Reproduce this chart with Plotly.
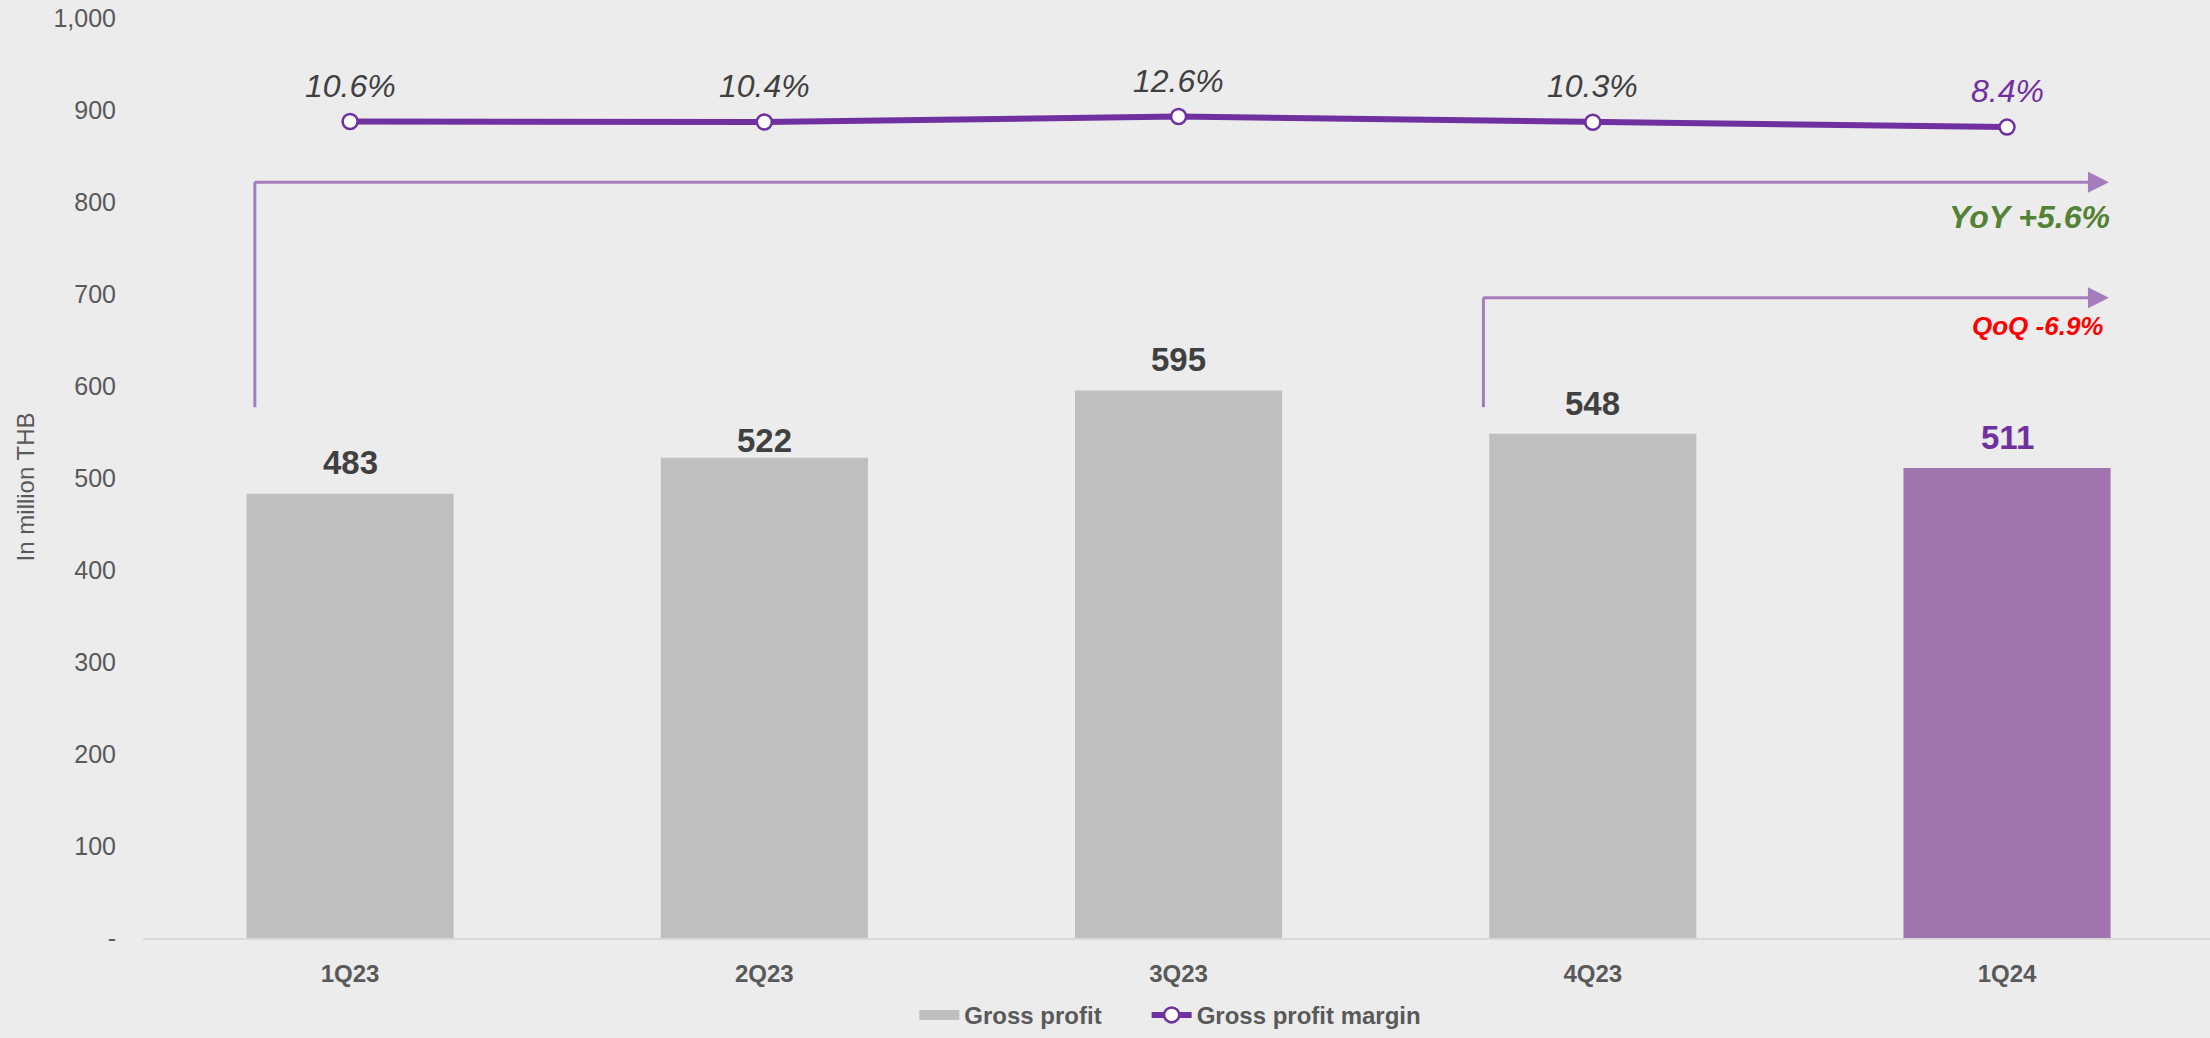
import plotly.graph_objects as go

# Quarterly gross profit (million THB) and gross profit margin (%)
quarters = ["1Q23", "2Q23", "3Q23", "4Q23", "1Q24"]
gross_profit = [483, 522, 595, 548, 511]
gross_margin = [10.6, 10.4, 12.6, 10.3, 8.4]
margin_labels = ["10.6%", "10.4%", "12.6%", "10.3%", "8.4%"]

y_ticks = [0, 100, 200, 300, 400, 500, 600, 700, 800, 900, 1000]
y_tick_text = ["-", "100", "200", "300", "400", "500", "600", "700", "800", "900", "1,000"]

yoy_text = "YoY +5.6%"
qoq_text = "QoQ -6.9%"

GREY = "#BFBFBF"
HIGHLIGHT = "#A074AF"
PURPLE = "#7030A0"
ARROW = "#A67DBB"
DARK = "#404040"
AXIS_TXT = "#595959"
BG = "#ECECEC"
FONT = "Liberation Sans, Arial, sans-serif"
NARROW = "Liberation Sans Narrow, Arial Narrow, Liberation Sans, sans-serif"

bar_colors = [GREY] * (len(quarters) - 1) + [HIGHLIGHT]
label_colors = [DARK] * (len(quarters) - 1) + [PURPLE]
# vertical offset (px) of each value label above its bar
bar_label_shift = [31, 17, 31, 30, 30]

fig = go.Figure()

fig.add_trace(go.Bar(
    x=quarters, y=gross_profit, name="Gross profit",
    marker=dict(color=bar_colors, line=dict(width=0)),
    width=0.5, hoverinfo="skip", showlegend=False,
))

# legend entry for the bars, drawn as a wide grey swatch
# (non-breaking spaces keep a gap before the next legend item)
fig.add_trace(go.Scatter(
    x=[None], y=[None], name="Gross profit" + "\u00a0" * 6, mode="lines",
    line=dict(color=GREY, width=13), hoverinfo="skip",
))

fig.add_trace(go.Scatter(
    x=quarters, y=gross_margin, name="Gross profit margin", yaxis="y2",
    mode="lines+markers",
    line=dict(color=PURPLE, width=6),
    marker=dict(symbol="circle", size=15, color="white",
                line=dict(color=PURPLE, width=2.5)),
    hoverinfo="skip",
))

annotations = []
# value labels above the bars
for q, v, c, s in zip(quarters, gross_profit, label_colors, bar_label_shift):
    annotations.append(dict(
        x=q, y=v, xref="x", yref="y", text=f"<b>{v}</b>", showarrow=False,
        yanchor="middle", yshift=s,
        font=dict(family=FONT, size=33, color=c),
    ))
# margin labels above the line markers
for q, m, t, c in zip(quarters, gross_margin, margin_labels, label_colors):
    annotations.append(dict(
        x=q, y=m, xref="x", yref="y2", text=t, showarrow=False,
        yanchor="middle", yshift=36,
        font=dict(family=FONT, size=32, color=c, style="italic"),
    ))

# growth brackets: vertical leg (shape) + horizontal arrow (annotation)
yoy_start, yoy_level, arrow_end = -0.23, 821.6, 4.246
qoq_start, qoq_level = 2.736, 696
leg_bottom = 577

shapes = [
    dict(type="line", xref="x", yref="y", x0=yoy_start, x1=yoy_start,
         y0=leg_bottom, y1=yoy_level, line=dict(color=ARROW, width=3)),
    dict(type="line", xref="x", yref="y", x0=qoq_start, x1=qoq_start,
         y0=leg_bottom, y1=qoq_level, line=dict(color=ARROW, width=3)),
]
for x0, lvl in [(yoy_start, yoy_level), (qoq_start, qoq_level)]:
    annotations.append(dict(
        x=arrow_end, y=lvl, ax=x0 - 0.004, ay=lvl, xref="x", yref="y",
        axref="x", ayref="y", text="", showarrow=True,
        arrowhead=2, arrowsize=1.4, arrowwidth=3, arrowcolor=ARROW,
    ))

annotations.append(dict(
    x=4.253, y=784, xref="x", yref="y", text=f"<b><i>{yoy_text}</i></b>",
    showarrow=False, xanchor="right", yanchor="middle",
    font=dict(family=NARROW, size=32, color="#548235"),
))
annotations.append(dict(
    x=4.236, y=665, xref="x", yref="y", text=f"<b><i>{qoq_text}</i></b>",
    showarrow=False, xanchor="right", yanchor="middle",
    font=dict(family=NARROW, size=26, color="#FF0000"),
))

# y-axis title
annotations.append(dict(
    x=-0.057, y=0.49, xref="paper", yref="paper", text="In million THB",
    showarrow=False, textangle=-90, xanchor="center", yanchor="middle",
    font=dict(family=FONT, size=24, color=AXIS_TXT),
))

fig.update_layout(
    width=2210, height=1038,
    margin=dict(l=143, r=0, t=18, b=95),
    paper_bgcolor=BG, plot_bgcolor=BG,
    font=dict(family=FONT, color=AXIS_TXT),
    bargap=0.5,
    showlegend=True,
    legend=dict(
        orientation="h", x=0.497, xanchor="center", y=-0.084, yanchor="middle",
        font=dict(family=FONT, size=24, color=AXIS_TXT, weight="bold"),
        bgcolor="rgba(0,0,0,0)", itemwidth=40, tracegroupgap=0,
    ),
    xaxis=dict(
        type="category", range=[-0.5, 4.49],
        showgrid=False, zeroline=False,
        showline=True, linecolor="#D9D9D9", linewidth=2,
        ticks="", ticklabelstandoff=13,
        tickfont=dict(family=FONT, size=24, color=AXIS_TXT, weight="bold"),
    ),
    yaxis=dict(
        range=[0, 1000], tickvals=y_ticks, ticktext=y_tick_text,
        showgrid=False, zeroline=False, showline=False,
        ticks="", ticklabelstandoff=26,
        tickfont=dict(family=FONT, size=25, color=AXIS_TXT),
    ),
    yaxis2=dict(
        overlaying="y", side="right", range=[-313.5, 51.7],
        visible=False, showgrid=False, zeroline=False,
    ),
    annotations=annotations,
    shapes=shapes,
)

fig.write_html("out.html")
